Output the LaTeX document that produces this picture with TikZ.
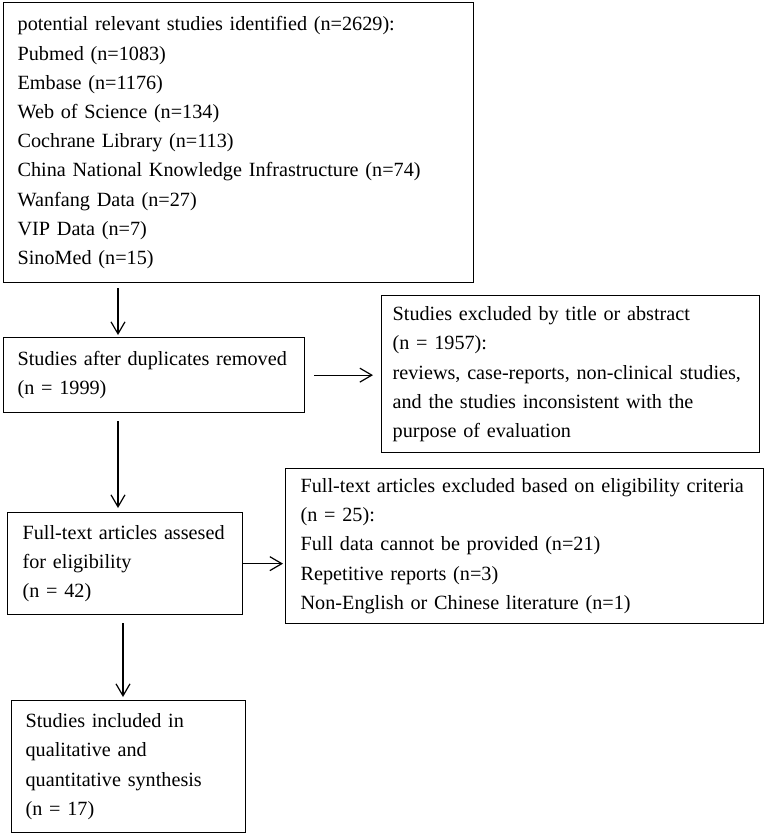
\documentclass[tikz,border=0pt]{standalone}
\usepackage{fontspec}
\setmainfont{Liberation Serif}
\usetikzlibrary{arrows.meta}
\hyphenpenalty=10000
\exhyphenpenalty=10000
\begin{document}
\begin{tikzpicture}[x=1pt,y=-1pt,
  box/.style={draw,line width=1.3pt,anchor=north west,align=left,inner ysep=0pt,
    font=\fontsize{20.2}{29.2}\selectfont},
  arr/.style={line width=1.2pt,-{Straight Barb[length=12pt,width=14pt,line width=1.2pt]}}]
\useasboundingbox (0,0) rectangle (765,834);
\fill[white] (0,0) rectangle (765,834);
\node[box,inner xsep=14pt,text width=442pt,minimum height=280pt] (b1) at (3,2)
 {potential relevant studies identified (n=2629):\\
  Pubmed (n=1083)\\
  Embase (n=1176)\\
  Web of Science (n=134)\\
  Cochrane Library (n=113)\\
  China National Knowledge Infrastructure (n=74)\\
  Wanfang Data (n=27)\\
  VIP Data (n=7)\\
  SinoMed (n=15)};
\node[box,inner xsep=14pt,text width=273pt,minimum height=75pt] (b2) at (3,337)
 {Studies after duplicates removed\\(n = 1999)};
\node[box,inner xsep=11pt,text width=356pt,minimum height=157pt] (b3) at (381,295)
 {Studies excluded by title or abstract\\
  (n = 1957):\\
  reviews, case-reports, non-clinical studies,\\
  and the studies inconsistent with the\\
  purpose of evaluation};
\node[box,inner xsep=15pt,text width=205pt,minimum height=102pt] (b4) at (7,512)
 {Full-text articles assesed\\for eligibility\\(n = 42)};
\node[box,inner xsep=15pt,text width=448pt,minimum height=155pt] (b5) at (285,468)
 {Full-text articles excluded based on eligibility criteria\\
  (n = 25):\\
  Full data cannot be provided (n=21)\\
  Repetitive reports (n=3)\\
  Non-English or Chinese literature (n=1)};
\node[box,inner xsep=14pt,text width=206pt,minimum height=132pt] (b6) at (11,700)
 {Studies included in\\qualitative and\\quantitative synthesis\\(n = 17)};
\coordinate (c1) at (118,0);
\coordinate (c2) at (123,0);
\draw[arr,shorten <=5pt,shorten >=2pt] (b1.south -| c1) -- (b2.north -| c1);
\draw[arr,shorten <=9pt,shorten >=8pt] (b2.east) -- (b2.east -| b3.west);
\draw[arr,shorten <=8pt,shorten >=4pt] (b2.south -| c1) -- (b4.north -| c1);
\draw[arr,shorten <=0pt,shorten >=2pt] (b4.east) -- (b4.east -| b5.west);
\draw[arr,shorten <=8pt,shorten >=3pt] (b4.south -| c2) -- (b6.north -| c2);
\end{tikzpicture}
\end{document}
